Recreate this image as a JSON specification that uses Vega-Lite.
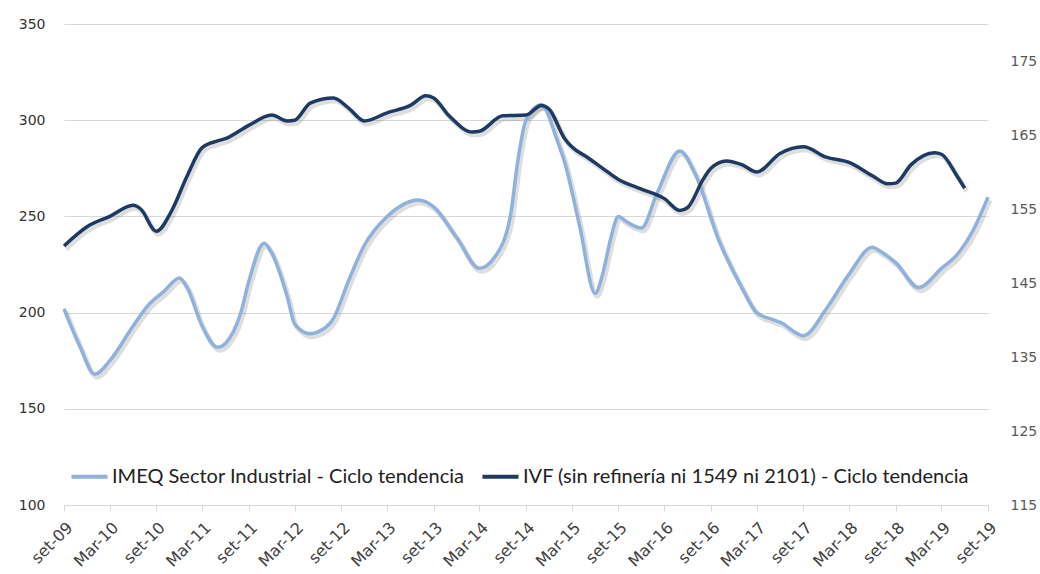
{
  "$schema": "https://vega.github.io/schema/vega-lite/v6.json",
  "width": 924,
  "height": 481,
  "autosize": {"type": "none"},
  "padding": {"left": 64, "top": 24, "right": 52, "bottom": 69},
  "background": "white",
  "config": {"view": {"stroke": null}, "font": "DejaVu Sans"},
  "datasets": {
    "imeq": [
      {"fecha": "2009-09-01", "valor": 202}, {"fecha": "2009-11-01", "valor": 183}, {"fecha": "2010-01-01", "valor": 168},
      {"fecha": "2010-03-01", "valor": 175}, {"fecha": "2010-06-01", "valor": 193}, {"fecha": "2010-08-01", "valor": 204},
      {"fecha": "2010-10-01", "valor": 211}, {"fecha": "2010-12-01", "valor": 218}, {"fecha": "2011-01-01", "valor": 213},
      {"fecha": "2011-03-01", "valor": 193}, {"fecha": "2011-05-01", "valor": 182}, {"fecha": "2011-06-01", "valor": 184},
      {"fecha": "2011-08-01", "valor": 200}, {"fecha": "2011-09-01", "valor": 216}, {"fecha": "2011-11-01", "valor": 236},
      {"fecha": "2011-12-01", "valor": 231}, {"fecha": "2012-02-01", "valor": 208}, {"fecha": "2012-03-01", "valor": 194},
      {"fecha": "2012-05-01", "valor": 189}, {"fecha": "2012-06-01", "valor": 190}, {"fecha": "2012-08-01", "valor": 197},
      {"fecha": "2012-10-01", "valor": 217}, {"fecha": "2012-12-01", "valor": 235}, {"fecha": "2013-03-01", "valor": 250},
      {"fecha": "2013-05-01", "valor": 256}, {"fecha": "2013-07-01", "valor": 258.5}, {"fecha": "2013-09-01", "valor": 255},
      {"fecha": "2013-12-01", "valor": 239}, {"fecha": "2014-03-01", "valor": 223}, {"fecha": "2014-05-01", "valor": 229},
      {"fecha": "2014-07-01", "valor": 250}, {"fecha": "2014-08-01", "valor": 280}, {"fecha": "2014-09-01", "valor": 300},
      {"fecha": "2014-11-01", "valor": 308}, {"fecha": "2015-01-01", "valor": 290}, {"fecha": "2015-02-01", "valor": 278},
      {"fecha": "2015-04-01", "valor": 245}, {"fecha": "2015-06-01", "valor": 210}, {"fecha": "2015-07-01", "valor": 220},
      {"fecha": "2015-08-01", "valor": 238}, {"fecha": "2015-09-01", "valor": 250}, {"fecha": "2015-10-01", "valor": 247.5},
      {"fecha": "2015-12-01", "valor": 244}, {"fecha": "2016-02-01", "valor": 262}, {"fecha": "2016-05-01", "valor": 284},
      {"fecha": "2016-07-01", "valor": 272}, {"fecha": "2016-10-01", "valor": 238},
      {"fecha": "2017-01-01", "valor": 213}, {"fecha": "2017-03-01", "valor": 200}, {"fecha": "2017-05-01", "valor": 196.5},
      {"fecha": "2017-06-01", "valor": 195}, {"fecha": "2017-09-01", "valor": 188}, {"fecha": "2017-12-01", "valor": 202},
      {"fecha": "2018-03-01", "valor": 220}, {"fecha": "2018-06-01", "valor": 234}, {"fecha": "2018-07-01", "valor": 232},
      {"fecha": "2018-09-01", "valor": 226}, {"fecha": "2018-12-01", "valor": 213}, {"fecha": "2019-03-01", "valor": 223},
      {"fecha": "2019-05-01", "valor": 230}, {"fecha": "2019-07-01", "valor": 242}, {"fecha": "2019-09-01", "valor": 260}
    ],
    "ivf": [
      {"fecha": "2009-09-01", "valor": 150}, {"fecha": "2009-12-01", "valor": 152.6}, {"fecha": "2010-03-01", "valor": 154},
      {"fecha": "2010-06-01", "valor": 155.5}, {"fecha": "2010-07-01", "valor": 155}, {"fecha": "2010-09-01", "valor": 152},
      {"fecha": "2010-11-01", "valor": 154.8}, {"fecha": "2011-01-01", "valor": 159.5}, {"fecha": "2011-03-01", "valor": 163.3},
      {"fecha": "2011-05-01", "valor": 164.2}, {"fecha": "2011-06-01", "valor": 164.5}, {"fecha": "2011-09-01", "valor": 166.3},
      {"fecha": "2011-12-01", "valor": 167.7}, {"fecha": "2012-02-01", "valor": 166.9}, {"fecha": "2012-03-01", "valor": 167},
      {"fecha": "2012-05-01", "valor": 169.3}, {"fecha": "2012-08-01", "valor": 170}, {"fecha": "2012-10-01", "valor": 168.6},
      {"fecha": "2012-12-01", "valor": 166.9}, {"fecha": "2013-03-01", "valor": 168}, {"fecha": "2013-06-01", "valor": 169},
      {"fecha": "2013-08-01", "valor": 170.3}, {"fecha": "2013-09-01", "valor": 170}, {"fecha": "2013-11-01", "valor": 167.6},
      {"fecha": "2014-02-01", "valor": 165.4}, {"fecha": "2014-03-01", "valor": 165.5}, {"fecha": "2014-06-01", "valor": 167.6},
      {"fecha": "2014-09-01", "valor": 167.7}, {"fecha": "2014-11-01", "valor": 169}, {"fecha": "2014-12-01", "valor": 168.5},
      {"fecha": "2015-02-01", "valor": 164.5}, {"fecha": "2015-03-01", "valor": 163.4}, {"fecha": "2015-05-01", "valor": 162},
      {"fecha": "2015-07-01", "valor": 160.5}, {"fecha": "2015-09-01", "valor": 159}, {"fecha": "2015-12-01", "valor": 157.7},
      {"fecha": "2016-03-01", "valor": 156.4}, {"fecha": "2016-05-01", "valor": 154.8}, {"fecha": "2016-06-01", "valor": 155.2},
      {"fecha": "2016-08-01", "valor": 159}, {"fecha": "2016-09-01", "valor": 160.5}, {"fecha": "2016-11-01", "valor": 161.5},
      {"fecha": "2017-01-01", "valor": 161}, {"fecha": "2017-03-01", "valor": 160}, {"fecha": "2017-06-01", "valor": 162.5},
      {"fecha": "2017-09-01", "valor": 163.4}, {"fecha": "2017-12-01", "valor": 162}, {"fecha": "2018-03-01", "valor": 161.3},
      {"fecha": "2018-06-01", "valor": 159.5}, {"fecha": "2018-08-01", "valor": 158.4}, {"fecha": "2018-09-01", "valor": 158.5},
      {"fecha": "2018-11-01", "valor": 161}, {"fecha": "2019-02-01", "valor": 162.6}, {"fecha": "2019-03-01", "valor": 162.4},
      {"fecha": "2019-05-01", "valor": 159.5}, {"fecha": "2019-06-01", "valor": 157.8}
    ]
  },
  "encoding": {
    "x": {
      "field": "fecha",
      "type": "temporal",
      "scale": {
        "type": "utc",
        "domain": [
          {"year": 2009, "month": 9, "date": 1, "utc": true},
          {"year": 2019, "month": 9, "date": 1, "utc": true}
        ]
      },
      "axis": {
        "title": null,
        "grid": false,
        "domainColor": "#d9d9d9",
        "tickColor": "#d9d9d9",
        "tickSize": 6,
        "labelAngle": -45,
        "labelFontSize": 16,
        "labelColor": "#404040",
        "labelPadding": 8,
        "labelFlush": false,
        "labelOverlap": false,
        "values": [
          {"year": 2009, "month": 9, "date": 1, "utc": true}, {"year": 2010, "month": 3, "date": 1, "utc": true},
          {"year": 2010, "month": 9, "date": 1, "utc": true}, {"year": 2011, "month": 3, "date": 1, "utc": true},
          {"year": 2011, "month": 9, "date": 1, "utc": true}, {"year": 2012, "month": 3, "date": 1, "utc": true},
          {"year": 2012, "month": 9, "date": 1, "utc": true}, {"year": 2013, "month": 3, "date": 1, "utc": true},
          {"year": 2013, "month": 9, "date": 1, "utc": true}, {"year": 2014, "month": 3, "date": 1, "utc": true},
          {"year": 2014, "month": 9, "date": 1, "utc": true}, {"year": 2015, "month": 3, "date": 1, "utc": true},
          {"year": 2015, "month": 9, "date": 1, "utc": true}, {"year": 2016, "month": 3, "date": 1, "utc": true},
          {"year": 2016, "month": 9, "date": 1, "utc": true}, {"year": 2017, "month": 3, "date": 1, "utc": true},
          {"year": 2017, "month": 9, "date": 1, "utc": true}, {"year": 2018, "month": 3, "date": 1, "utc": true},
          {"year": 2018, "month": 9, "date": 1, "utc": true}, {"year": 2019, "month": 3, "date": 1, "utc": true},
          {"year": 2019, "month": 9, "date": 1, "utc": true}
        ],
        "labelExpr": "(utcmonth(datum.value) == 8 ? 'set-' : 'Mar-') + utcFormat(datum.value, '%y')"
      }
    }
  },
  "layer": [
    {
      "data": {"name": "imeq"},
      "mark": {"type": "line", "interpolate": "monotone", "strokeWidth": 5, "color": "#000000", "opacity": 0.13, "xOffset": 2, "yOffset": 3},
      "encoding": {
        "y": {"field": "valor", "type": "quantitative", "scale": {"domain": [100, 350], "nice": false, "zero": false}, "axis": null}
      }
    },
    {
      "data": {"name": "ivf"},
      "mark": {"type": "line", "interpolate": "monotone", "strokeWidth": 5, "color": "#000000", "opacity": 0.13, "xOffset": 2, "yOffset": 3},
      "encoding": {
        "y": {"field": "valor", "type": "quantitative", "scale": {"domain": [115, 180], "nice": false, "zero": false}, "axis": null}
      }
    },
    {
      "data": {"name": "imeq"},
      "transform": [{"calculate": "'IMEQ Sector Industrial - Ciclo tendencia'", "as": "serie"}],
      "mark": {"type": "line", "interpolate": "monotone", "strokeWidth": 3.5},
      "encoding": {
        "y": {
          "field": "valor",
          "type": "quantitative",
          "scale": {"domain": [100, 350], "nice": false, "zero": false},
          "axis": {
            "title": null,
            "orient": "left",
            "values": [100, 150, 200, 250, 300, 350],
            "grid": true,
            "gridColor": "#d9d9d9",
            "domain": false,
            "ticks": false,
            "labelPadding": 19,
            "labelFontSize": 14,
            "labelColor": "#333333"
          }
        },
        "color": {
          "field": "serie",
          "type": "nominal",
          "scale": {
            "domain": ["IMEQ Sector Industrial - Ciclo tendencia", "IVF (sin refinería ni 1549 ni 2101) - Ciclo tendencia"],
            "range": ["#8fb1dc", "#1f3a62"]
          },
          "legend": {
            "title": null,
            "orient": "none",
            "legendX": 5,
            "legendY": 432,
            "direction": "horizontal",
            "symbolType": "stroke",
            "symbolStrokeWidth": 4,
            "symbolSize": 1300,
            "labelFont": "Lato",
            "labelFontSize": 20,
            "labelColor": "#222222",
            "labelLimit": 600,
            "columnPadding": 9,
            "labelOffset": 2
          }
        }
      }
    },
    {
      "data": {"name": "ivf"},
      "transform": [{"calculate": "'IVF (sin refinería ni 1549 ni 2101) - Ciclo tendencia'", "as": "serie"}],
      "mark": {"type": "line", "interpolate": "monotone", "strokeWidth": 3.5},
      "encoding": {
        "y": {
          "field": "valor",
          "type": "quantitative",
          "scale": {"domain": [115, 180], "nice": false, "zero": false},
          "axis": {
            "title": null,
            "orient": "right",
            "values": [115, 125, 135, 145, 155, 165, 175],
            "grid": false,
            "domain": false,
            "ticks": false,
            "labelPadding": 22,
            "labelFontSize": 14,
            "labelColor": "#595959"
          }
        },
        "color": {"field": "serie", "type": "nominal"}
      }
    }
  ],
  "resolve": {"scale": {"y": "independent"}}
}
